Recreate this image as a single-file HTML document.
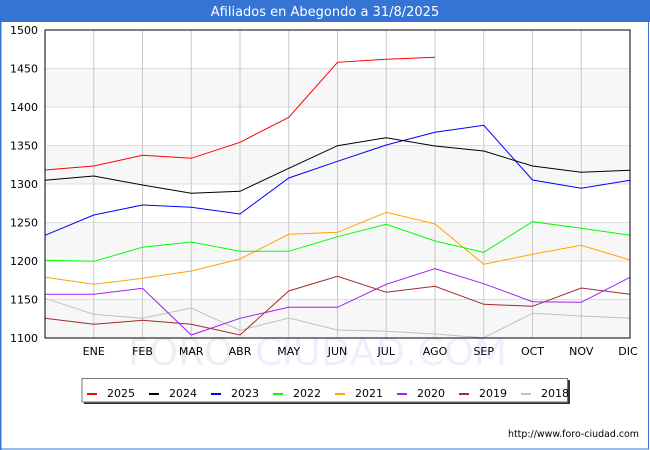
<!DOCTYPE html>
<html><head><meta charset="utf-8">
<style>
html,body{margin:0;padding:0;background:#fff;}
svg{display:block;}
text{font-family:"DejaVu Sans","Liberation Sans",sans-serif;}
</style></head>
<body>
<svg width="650" height="450" viewBox="0 0 650 450" xmlns="http://www.w3.org/2000/svg">
<rect x="0" y="0" width="650" height="450" fill="#fff"/>
<rect x="0" y="0" width="650" height="22" fill="#3574d4"/>
<text x="325" y="16" font-size="13" fill="#fff" text-anchor="middle">Afiliados en Abegondo a 31/8/2025</text>
<rect x="0.5" y="0.5" width="648" height="448.5" fill="none" stroke="#3574d4" stroke-width="1"/>
<rect x="0" y="22" width="1.5" height="428" fill="#3574d4"/>

<!-- bands -->
<rect x="45" y="68.5" width="585" height="38.5" fill="#f7f7f7"/>
<rect x="45" y="145.5" width="585" height="38.5" fill="#f7f7f7"/>
<rect x="45" y="222.5" width="585" height="38.5" fill="#f7f7f7"/>
<rect x="45" y="299.5" width="585" height="38.5" fill="#f7f7f7"/>

<!-- horizontal grid -->
<g stroke="#dddddd" stroke-width="1">
<line x1="45" y1="68.5" x2="630" y2="68.5"/>
<line x1="45" y1="107" x2="630" y2="107"/>
<line x1="45" y1="145.5" x2="630" y2="145.5"/>
<line x1="45" y1="184" x2="630" y2="184"/>
<line x1="45" y1="222.5" x2="630" y2="222.5"/>
<line x1="45" y1="261" x2="630" y2="261"/>
<line x1="45" y1="299.5" x2="630" y2="299.5"/>
</g>
<!-- vertical grid -->
<g stroke="#c8c8c8" stroke-width="1">
<line x1="93.75" y1="30" x2="93.75" y2="338"/>
<line x1="142.5" y1="30" x2="142.5" y2="338"/>
<line x1="191.25" y1="30" x2="191.25" y2="338"/>
<line x1="240" y1="30" x2="240" y2="338"/>
<line x1="288.75" y1="30" x2="288.75" y2="338"/>
<line x1="337.5" y1="30" x2="337.5" y2="338"/>
<line x1="386.25" y1="30" x2="386.25" y2="338"/>
<line x1="435" y1="30" x2="435" y2="338"/>
<line x1="483.75" y1="30" x2="483.75" y2="338"/>
<line x1="532.5" y1="30" x2="532.5" y2="338"/>
<line x1="581.25" y1="30" x2="581.25" y2="338"/>
</g>

<!-- watermark -->
<text x="128" y="365" font-size="37" fill="#eeeeee" textLength="105" lengthAdjust="spacingAndGlyphs">FORO</text>
<text x="255" y="365" font-size="37" fill="#eeeeff" textLength="252" lengthAdjust="spacingAndGlyphs">CIUDAD.COM</text>

<!-- series -->
<g fill="none" stroke-width="1">
<polyline stroke="#c0c0c0" points="45,298.3 93.75,314.3 142.5,318.3 191.25,308 240,330.3 288.75,318 337.5,330 386.25,331.3 435,334 483.75,337.7 532.5,313.3 581.25,316 630,318.3"/>
<polyline stroke="#a52a2a" points="45,318.3 93.75,324.3 142.5,320.3 191.25,324.3 240,335 288.75,291 337.5,276.3 386.25,292.3 435,286.3 483.75,304.3 532.5,306.3 581.25,288 630,294.3"/>
<polyline stroke="#a020f0" points="45,294.3 93.75,294.3 142.5,288.3 191.25,335 240,318.3 288.75,307.3 337.5,307.3 386.25,284.3 435,268.7 483.75,283.7 532.5,301.7 581.25,302.3 630,277.3"/>
<polyline stroke="#ffa500" points="45,277.3 93.75,284.3 142.5,278.3 191.25,271 240,259 288.75,234.3 337.5,232.3 386.25,212.3 435,224 483.75,264.3 532.5,254.3 581.25,245.3 630,260"/>
<polyline stroke="#00ff00" points="45,260.3 93.75,261.3 142.5,247.3 191.25,242 240,251.3 288.75,251.3 337.5,236.7 386.25,224.3 435,241 483.75,252.3 532.5,221.7 581.25,228.3 630,235.3"/>
<polyline stroke="#0000ff" points="45,235.3 93.75,215 142.5,205 191.25,207.3 240,214 288.75,178 337.5,161.3 386.25,145 435,132.3 483.75,125.3 532.5,180 581.25,188.3 630,180.3"/>
<polyline stroke="#000000" points="45,180.3 93.75,176 142.5,185 191.25,193.3 240,191.3 288.75,168.3 337.5,145.7 386.25,137.7 435,146 483.75,151 532.5,166 581.25,172.3 630,170.3"/>
<polyline stroke="#ff0000" points="45,170 93.75,166 142.5,155.3 191.25,158.3 240,142.3 288.75,117.3 337.5,62.3 386.25,59.3 435,57.3"/>
</g>

<!-- plot border -->
<rect x="45" y="30" width="585" height="308" fill="none" stroke="#000" stroke-width="1"/>

<!-- y labels -->
<g font-size="11" fill="#000" text-anchor="end">
<text x="38" y="34">1500</text>
<text x="38" y="72.5">1450</text>
<text x="38" y="111">1400</text>
<text x="38" y="149.5">1350</text>
<text x="38" y="188">1300</text>
<text x="38" y="226.5">1250</text>
<text x="38" y="265">1200</text>
<text x="38" y="303.5">1150</text>
<text x="38" y="342">1100</text>
</g>
<!-- x labels -->
<g font-size="11" fill="#000" text-anchor="middle">
<text x="93.75" y="355">ENE</text>
<text x="142.5" y="355">FEB</text>
<text x="191.25" y="355">MAR</text>
<text x="240" y="355">ABR</text>
<text x="288.75" y="355">MAY</text>
<text x="337.5" y="355">JUN</text>
<text x="386.25" y="355">JUL</text>
<text x="435" y="355">AGO</text>
<text x="483.75" y="355">SEP</text>
<text x="532.5" y="355">OCT</text>
<text x="581.25" y="355">NOV</text>
<text x="628" y="355">DIC</text>
</g>

<!-- legend -->
<rect x="84" y="380" width="486" height="24" fill="#333"/>
<rect x="82" y="378.5" width="485.5" height="23.5" fill="#fff" stroke="#777" stroke-width="1"/>
<g stroke-width="2">
<line x1="87" y1="394" x2="97" y2="394" stroke="#ff0000"/>
<line x1="149" y1="394" x2="159" y2="394" stroke="#000000"/>
<line x1="211" y1="394" x2="221" y2="394" stroke="#0000ff"/>
<line x1="273" y1="394" x2="283" y2="394" stroke="#00ff00"/>
<line x1="335" y1="394" x2="345" y2="394" stroke="#ffa500"/>
<line x1="397" y1="394" x2="407" y2="394" stroke="#a020f0"/>
<line x1="459" y1="394" x2="469" y2="394" stroke="#a52a2a"/>
<line x1="521" y1="394" x2="531" y2="394" stroke="#c0c0c0"/>
</g>
<g font-size="11" fill="#000">
<text x="107" y="397">2025</text>
<text x="169" y="397">2024</text>
<text x="231" y="397">2023</text>
<text x="293" y="397">2022</text>
<text x="355" y="397">2021</text>
<text x="417" y="397">2020</text>
<text x="479" y="397">2019</text>
<text x="541" y="397">2018</text>
</g>

<!-- url -->
<text x="508" y="437" font-size="9.5" fill="#000" textLength="131" lengthAdjust="spacingAndGlyphs">http://www.foro-ciudad.com</text>
</svg>
</body></html>
